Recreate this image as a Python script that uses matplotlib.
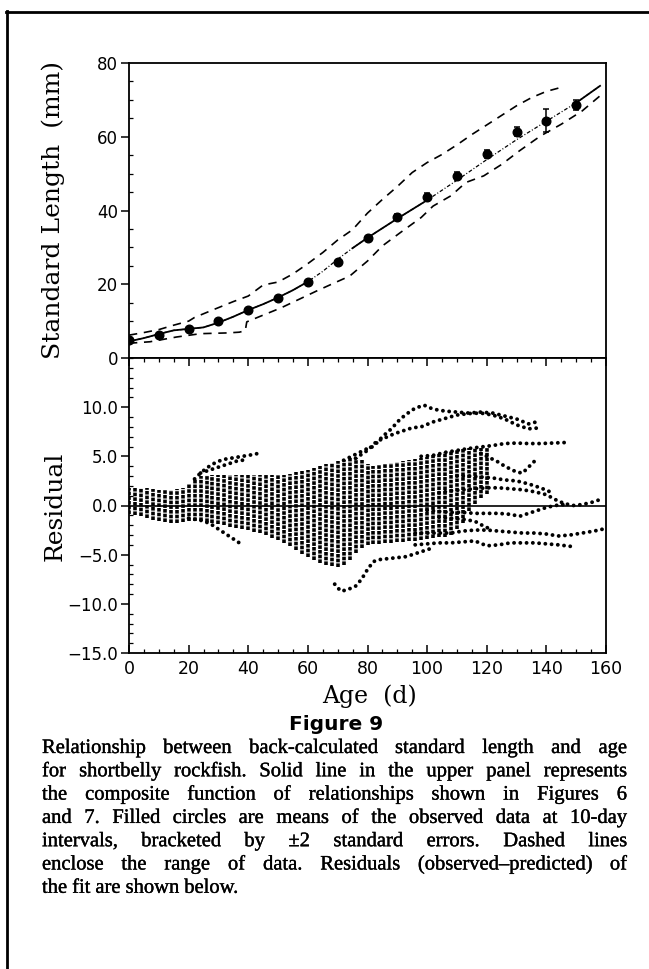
import numpy as np
import matplotlib
matplotlib.use("Agg")
import matplotlib.pyplot as plt
import matplotlib.patheffects as pe
from matplotlib.lines import Line2D
from matplotlib.ticker import MultipleLocator, FuncFormatter

# ------------------------------------------------------------
# Data
# ------------------------------------------------------------

# upper panel: means at 10-day intervals with +-2 SE
mean_age = [0, 10, 20, 30, 40, 50, 60, 70, 80, 90, 100, 110, 120, 130, 140, 150]
mean_len = [4.9, 6.2, 7.8, 9.9, 13.0, 16.2, 20.6, 26.1, 32.6, 38.3, 43.7, 49.4, 55.4, 61.4, 64.4, 68.6]
mean_err = [0.2, 0.3, 0.3, 0.3, 0.3, 0.3, 0.4, 0.5, 0.6, 0.7, 1.0, 1.0, 1.1, 1.3, 3.0, 1.4]

# composite function
curve_age = [0, 5, 10, 15, 20, 25, 30, 35, 40, 45, 50, 55, 60, 65, 70, 75, 80, 90,
             100, 110, 120, 130, 140, 150, 158]
curve_len = [4.5, 5.4, 6.5, 7.5, 7.9, 8.3, 9.6, 11.2, 13.0, 14.6, 16.4, 18.4, 20.7, 23.5,
             26.8, 29.8, 32.6, 37.8, 42.8, 48.2, 53.8, 59.2, 64.2, 69.2, 73.8]

# range of data (dashed)
max_age = [0, 5, 10, 15, 20, 22, 28, 35, 40, 45, 50, 55, 60, 65, 70, 75, 80, 85, 90, 95,
           100, 105, 110, 115, 120, 125, 130, 135, 140, 145]
max_len = [6.2, 6.9, 7.7, 8.9, 10.0, 11.0, 13.0, 15.3, 16.8, 19.8, 20.6, 22.8, 25.6, 28.6,
           32.0, 34.8, 39.3, 43.0, 46.5, 50.3, 53.0, 55.2, 57.8, 60.6, 63.2, 65.8, 68.4,
           70.6, 72.3, 73.4]
min_age = [0, 7, 16, 24, 33, 37, 39, 39.5, 44, 51, 57, 63, 69, 74, 80, 85, 91, 98, 102,
           108, 113, 119, 125, 131, 138, 145, 152, 158]
min_len = [4.0, 4.4, 5.7, 6.6, 6.8, 7.0, 7.4, 9.8, 11.3, 13.6, 15.9, 18.2, 20.4, 22.2,
           26.3, 30.4, 34.0, 38.1, 41.2, 44.0, 47.6, 49.4, 52.5, 56.2, 60.2, 63.4, 67.0, 71.1]

# lower panel: dense columns of residuals (every 2 days)
band_age = list(range(0, 122, 2))
band_lo = [-0.9, -1.0, -1.1, -1.3, -1.5, -1.6, -1.7, -1.8, -1.8, -1.7, -1.6, -1.6, -1.6,
           -1.7, -1.8, -1.9, -2.0, -2.2, -2.3, -2.4, -2.5, -2.7, -2.8, -3.0, -3.3, -3.5,
           -3.8, -4.1, -4.5, -4.9, -5.2, -5.5, -5.8, -6.0, -6.2, -6.3, -6.0, -5.5, -4.8,
           -4.3, -4.0, -3.9, -3.9, -3.8, -3.8, -3.7, -3.7, -3.6, -3.6, -3.5, -3.4, -3.3,
           -3.2, -3.2, -3.0, -2.4, -1.8, -0.6, 0.2, 0.8, 1.2]
band_hi = [1.8, 1.8, 1.8, 1.8, 1.7, 1.6, 1.6, 1.6, 1.7, 1.8, 2.2, 2.7, 3.0, 3.1, 3.1, 3.1,
           3.1, 3.1, 3.1, 3.1, 3.1, 3.1, 3.1, 3.1, 3.1, 3.1, 3.1, 3.2, 3.4, 3.5, 3.6, 3.8,
           4.0, 4.2, 4.3, 4.5, 4.6, 4.8, 4.8, 4.6, 4.2, 4.0, 4.1, 4.2, 4.3, 4.4, 4.5, 4.6,
           4.7, 4.8, 4.9, 5.1, 5.2, 5.4, 5.5, 5.6, 5.7, 5.8, 5.8, 5.8, 5.8]

# individual residual tracks outside the dense band
tracks = [
    ([22, 24, 26, 28, 30, 32, 34, 36, 38, 40, 42, 44],
     [2.7, 3.3, 3.8, 4.2, 4.5, 4.7, 4.8, 4.9, 5.0, 5.1, 5.2, 5.35]),
    ([24, 26, 28, 30, 32, 34, 36, 38, 40],
     [3.3, 3.5, 3.7, 3.9, 4.1, 4.3, 4.5, 4.6, 4.7]),
    ([20, 22, 24, 26, 28, 30, 32, 34, 36, 38],
     [-1.3, -1.4, -1.5, -1.7, -2.0, -2.4, -2.8, -3.2, -3.6, -4.0]),
    ([72, 76, 80, 82, 85, 88, 91, 94, 96, 99, 102, 106, 110, 114, 118, 122, 126, 130, 134, 138],
     [4.6, 5.2, 5.8, 6.0, 7.0, 7.8, 8.8, 9.5, 9.9, 10.2, 9.8, 9.6, 9.5, 9.4, 9.5, 9.4, 9.1, 8.8, 8.3, 8.6]),
    ([76, 80, 83, 86, 89, 92, 95, 98, 102, 106, 110, 114, 118, 122, 126, 130, 134, 138],
     [4.8, 5.6, 6.5, 6.9, 7.3, 7.6, 7.9, 8.0, 8.5, 8.85, 9.2, 9.35, 9.4, 9.2, 8.8, 8.2, 7.8, 7.9]),
    ([98, 102, 106, 110, 114, 118, 122, 126, 130, 134, 138, 142, 146],
     [5.0, 5.1, 5.4, 5.6, 5.8, 5.95, 6.1, 6.3, 6.35, 6.3, 6.3, 6.35, 6.4]),
    ([118, 120, 122, 124, 126, 128, 130, 132, 134, 136],
     [5.3, 5.0, 4.7, 4.4, 4.0, 3.7, 3.4, 3.3, 3.9, 4.5]),
    ([110, 114, 118, 122, 126, 130, 134, 138, 142],
     [3.0, 3.0, 2.9, 2.8, 2.6, 2.5, 2.2, 1.8, 1.3]),
    ([104, 108, 112, 116, 120, 124, 128, 132, 136, 140, 143, 146, 149, 152, 155, 158],
     [1.3, 1.5, 1.6, 1.7, 1.8, 1.8, 1.7, 1.6, 1.4, 1.1, 0.6, 0.2, 0.0, 0.1, 0.3, 0.6]),
    ([100, 104, 108, 112, 116, 120, 124, 128, 131, 134, 137, 140, 143, 146],
     [-0.5, -0.6, -0.7, -0.7, -0.8, -0.8, -0.8, -0.9, -1.1, -0.8, -0.5, -0.2, 0.0, 0.1]),
    ([104, 108, 112, 116, 119, 122],
     [-1.2, -1.3, -1.4, -1.6, -2.1, -2.5]),
    ([96, 100, 104, 108, 112, 116, 120, 124, 128, 132, 136, 140, 144, 148, 152, 156, 159],
     [-2.8, -2.8, -2.8, -2.8, -2.6, -2.5, -2.5, -2.6, -2.7, -2.8, -2.8, -2.9, -3.1, -3.0, -2.8, -2.6, -2.4]),
    ([96, 100, 104, 108, 112, 116, 120, 124, 128, 132, 136, 140, 144, 148],
     [-4.0, -3.9, -3.8, -3.8, -3.7, -3.6, -4.1, -4.0, -3.8, -3.8, -3.8, -3.9, -4.0, -4.15]),
    ([69, 71, 73, 76, 78, 80, 82, 84, 87, 90, 93, 96, 99, 102],
     [-8.0, -8.7, -8.6, -8.2, -7.5, -6.5, -5.7, -5.5, -5.4, -5.3, -5.2, -4.9, -4.6, -4.3]),
]

caption_lines = [
    "Relationship between back-calculated standard length and age",
    "for shortbelly rockfish. Solid line in the upper panel represents",
    "the composite function of relationships shown in Figures 6",
    "and 7. Filled circles are means of the observed data at 10-day",
    "intervals, bracketed by \u00b12 standard errors. Dashed lines",
    "enclose the range of data. Residuals (observed\u2013predicted) of",
    "the fit are shown below.",
]

# ------------------------------------------------------------
# Figure layout (pixel based)
# ------------------------------------------------------------

W, H = 649, 969
fig = plt.figure(figsize=(W / 100, H / 100), dpi=100)


def fx(px):
    return px / W


def fy(py):
    return 1 - py / H


L, R = 129, 606
ax1 = fig.add_axes([fx(L), fy(358), fx(R) - fx(L), fy(63) - fy(358)])
ax2 = fig.add_axes([fx(L), fy(653), fx(R) - fx(L), fy(358) - fy(653)])

serif = "DejaVu Serif"
sans = "DejaVu Sans"
cap_font = "Liberation Serif"

# ------------------------------------------------------------
# Upper panel
# ------------------------------------------------------------

ca = np.array(curve_age, dtype=float)
cl = np.array(curve_len, dtype=float)
solid_spans = [(0, 60), (75, 100), (150, 158)]
in_span = np.zeros(len(ca), bool)
for a, b in solid_spans:
    in_span |= (ca >= a) & (ca <= b)
ax1.plot(ca, cl, color="k", lw=0.9, ls=(0, (3, 1.6, 0.8, 1.6)))
ax1.plot(ca, np.where(in_span, cl, np.nan), color="k", lw=1.3)

ax1.plot(max_age, max_len, color="k", lw=1.2, ls=(0, (5, 4)))
ax1.plot(min_age, min_len, color="k", lw=1.2, ls=(0, (5, 4)))

ax1.errorbar(mean_age, mean_len, yerr=mean_err, fmt="o", color="k", ms=6.2,
             capsize=2.2, elinewidth=1.1, capthick=1.1, zorder=5)

ax1.set_xlim(0, 160)
ax1.set_ylim(0, 80)
ax1.set_yticks([0, 20, 40, 60, 80])
ax1.yaxis.set_minor_locator(MultipleLocator(5))
ax1.tick_params(axis="y", which="major", direction="out", length=6, width=1.1,
                labelsize=12, pad=2)
ax1.tick_params(axis="y", which="minor", direction="in", length=3, width=0.9)
ax1.tick_params(axis="x", which="both", bottom=False, labelbottom=False)
for s in ax1.spines.values():
    s.set_linewidth(1.3)

# ------------------------------------------------------------
# Lower panel
# ------------------------------------------------------------

ax2.vlines(band_age, band_lo, band_hi, colors="k", linewidth=2.6,
           linestyles=[(0, (1.0, 0.3))])
for ages, vals in tracks:
    ax2.plot(ages, vals, color="k", lw=2.8, ls=(0, (0.01, 1.6)),
             dash_capstyle="round")
ax2.axhline(0, color="k", lw=1.2, zorder=4)

ax2.set_xlim(0, 160)
ax2.set_ylim(-15, 15)
ax2.set_yticks([-15, -10, -5, 0, 5, 10])
ax2.yaxis.set_major_formatter(FuncFormatter(lambda v, p: f"{v:.1f}".replace("-", "\u2212")))
ax2.yaxis.set_minor_locator(MultipleLocator(1))
ax2.set_xticks(range(0, 161, 20))
ax2.xaxis.set_minor_locator(MultipleLocator(5))
ax2.tick_params(axis="y", which="major", direction="out", length=6, width=1.1,
                labelsize=12, pad=2)
ax2.tick_params(axis="y", which="minor", direction="in", length=3, width=0.9)
ax2.tick_params(axis="x", which="major", direction="in", length=6, width=1.1,
                top=True, labelsize=12.5, pad=5)
ax2.tick_params(axis="x", which="minor", direction="in", length=3, width=0.9, top=True)
for s in ax2.spines.values():
    s.set_linewidth(1.3)

# ------------------------------------------------------------
# Labels, caption, page border
# ------------------------------------------------------------

fig.text(fx(53), fy(210), "Standard Length  (mm)", rotation=90, ha="center",
         va="center", family=serif, fontsize=18)
fig.text(fx(55), fy(506), "Residual", rotation=90, ha="center", va="center",
         family=serif, fontsize=18)
fig.text(fx(370), fy(696), "Age  (d)", ha="center", va="center", family=serif,
         fontsize=17)
fig.text(fx(336), fy(725), "Figure 9", ha="center", va="center", family=sans,
         fontweight="bold", fontsize=14.5)

renderer = fig.canvas.get_renderer()
cap_left, cap_right = 42, 627
cap_base0, cap_dy = 753, 23.3
fs = 14.8
thick = [pe.withStroke(linewidth=0.25, foreground="k")]
# shrink until every line fits with a minimal word gap
while True:
    probe = fig.text(0, 0, "a a", family=cap_font, fontsize=fs)
    probe2 = fig.text(0, 0, "aa", family=cap_font, fontsize=fs)
    space = probe.get_window_extent(renderer).width - probe2.get_window_extent(renderer).width
    probe.remove()
    probe2.remove()
    worst = 0
    for line in caption_lines:
        t = fig.text(0, 0, line, family=cap_font, fontsize=fs)
        worst = max(worst, t.get_window_extent(renderer).width)
        t.remove()
    if worst <= (cap_right - cap_left) * 1.005:
        break
    fs -= 0.1

for i, line in enumerate(caption_lines):
    words = line.split(" ")
    y = fy(cap_base0 + i * cap_dy)
    texts = [fig.text(0, y, w, family=cap_font, fontsize=fs, va="baseline",
                      path_effects=thick) for w in words]
    widths = [t.get_window_extent(renderer).width for t in texts]
    if i == len(caption_lines) - 1:
        gap = space
    else:
        gap = (cap_right - cap_left - sum(widths)) / (len(words) - 1)
    x = cap_left
    for t, w in zip(texts, widths):
        t.set_x(fx(x))
        x += w + gap

fig.add_artist(Line2D([fx(7), fx(7)], [fy(11), 0], color="k", lw=2.0))
fig.add_artist(Line2D([fx(6), 1], [fy(12), fy(12)], color="k", lw=2.0))

fig.savefig("out.png", dpi=100)
